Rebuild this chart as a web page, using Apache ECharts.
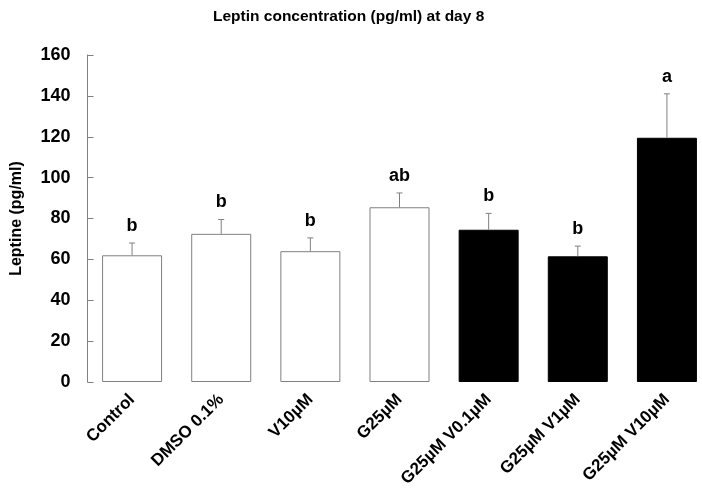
<!DOCTYPE html>
<html>
<head>
<meta charset="utf-8">
<script src="https://cdn.jsdelivr.net/npm/echarts@6/dist/echarts.min.js"></script>
<style>
html,body{margin:0;padding:0;background:#fff;}
#chart{width:702px;height:492px;}
</style>
</head>
<body>
<div id="chart"></div>
<script>
var categories = ['Control', 'DMSO 0.1%', 'V10\u00b5M', 'G25\u00b5M', 'G25\u00b5M V0.1\u00b5M', 'G25\u00b5M V1\u00b5M', 'G25\u00b5M V10\u00b5M'];
var means = [62, 72.5, 64, 85.5, 74.5, 61.5, 119.5];
var errors = [6, 7, 6.5, 7, 8, 5, 21.5];
var letters = ['b', 'b', 'b', 'ab', 'b', 'b', 'a'];
var filled = [false, false, false, false, true, true, true];
var yTicks = [0, 20, 40, 60, 80, 100, 120, 140, 160];

var FONT = 'Liberation Sans, Arial, sans-serif';
var chart = echarts.init(document.getElementById('chart'), null, {renderer: 'canvas'});

var barData = means.map(function (v, i) {
  return {
    value: v,
    itemStyle: filled[i]
      ? {color: '#000000', borderColor: '#000000', borderWidth: 1}
      : {color: '#ffffff', borderColor: '#808080', borderWidth: 1}
  };
});

var errData = means.map(function (v, i) { return [i, v, v + errors[i], letters[i]]; });

var option = {
  backgroundColor: '#ffffff',
  animation: false,
  title: {
    text: 'Leptin concentration (pg/ml) at day 8',
    left: 208,
    top: 4,
    textStyle: {fontFamily: FONT, fontWeight: 'bold', fontSize: 15.5, color: '#000'}
  },
  grid: {left: 87.5, top: 55, width: 624, height: 327, containLabel: false, outerBoundsMode: 'none'},
  xAxis: {
    type: 'category',
    data: categories,
    axisLine: {show: false},
    axisTick: {show: false},
    axisLabel: {
      rotate: 45,
      interval: 0,
      margin: 15,
      fontFamily: FONT,
      fontWeight: 'bold',
      fontSize: 17,
      color: '#000'
    }
  },
  yAxis: {
    type: 'value',
    min: yTicks[0],
    max: yTicks[yTicks.length - 1],
    interval: 20,
    name: 'Leptine (pg/ml)',
    nameLocation: 'middle',
    nameGap: 63,
    nameTextStyle: {fontFamily: FONT, fontWeight: 'bold', fontSize: 16, color: '#000'},
    splitLine: {show: false},
    axisLine: {show: true, lineStyle: {color: '#808080', width: 1}},
    axisTick: {show: true, inside: true, length: 6, lineStyle: {color: '#808080'}},
    axisLabel: {
      margin: 17,
      fontFamily: FONT,
      fontWeight: 'bold',
      fontSize: 18,
      color: '#000'
    }
  },
  series: [
    {
      type: 'bar',
      data: barData,
      barWidth: 60,
      z: 2
    },
    {
      type: 'custom',
      z: 3,
      data: errData,
      renderItem: function (params, api) {
        var x = api.coord([api.value(0), api.value(1)])[0];
        var yLow = api.coord([api.value(0), api.value(1)])[1];
        var yHigh = api.coord([api.value(0), api.value(2)])[1];
        var cap = 3;
        return {
          type: 'group',
          children: [
            {type: 'line', shape: {x1: x, y1: yLow, x2: x, y2: yHigh}, style: {stroke: '#808080', lineWidth: 1}},
            {type: 'line', shape: {x1: x - cap, y1: yHigh, x2: x + cap, y2: yHigh}, style: {stroke: '#808080', lineWidth: 1}},
            {type: 'text', style: {
              x: x, y: yHigh - 8,
              text: api.value(3),
              textAlign: 'center', textVerticalAlign: 'bottom',
              fontFamily: FONT, fontWeight: 'bold', fontSize: 18, fill: '#000'
            }}
          ]
        };
      }
    }
  ]
};
chart.setOption(option);
</script>
</body>
</html>
